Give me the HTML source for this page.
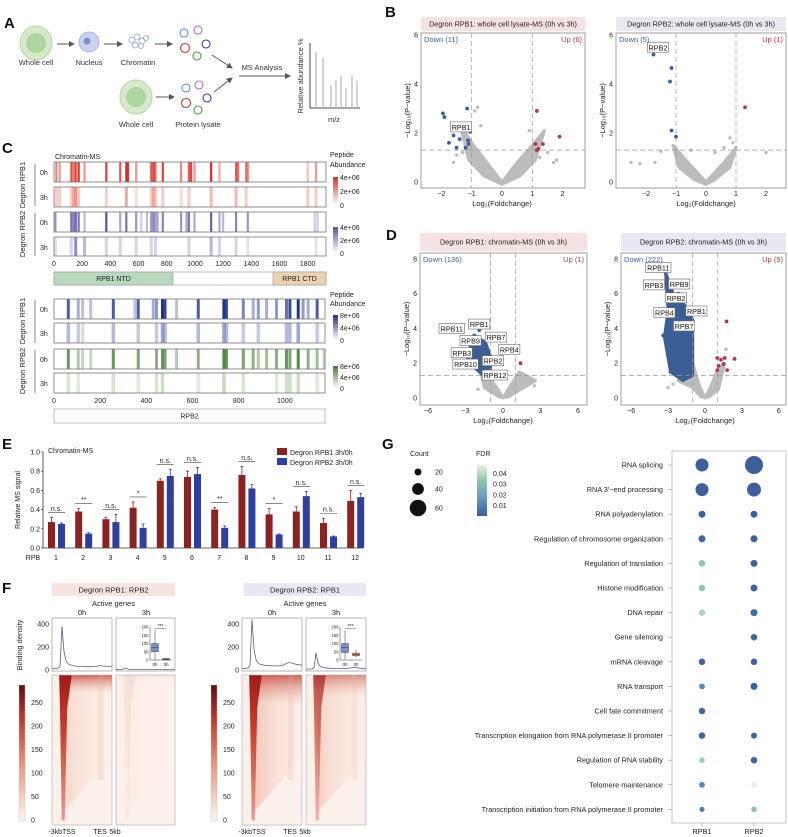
<!DOCTYPE html>
<html><head><meta charset="utf-8">
<style>
body{margin:0;background:#fff}
svg{display:block;font-family:"Liberation Sans",Arial,sans-serif}
</style></head>
<body>
<svg id="fig" width="788" height="837" viewBox="0 0 788 837" xmlns="http://www.w3.org/2000/svg">
<defs>
<marker id="arr" markerWidth="6" markerHeight="6" refX="5" refY="3" orient="auto"><path d="M0,0 L6,3 L0,6 z" fill="#555"/></marker>
<linearGradient id="gRed" x1="0" y1="1" x2="0" y2="0"><stop offset="0" stop-color="#fff"/><stop offset="1" stop-color="#d73027"/></linearGradient>
<linearGradient id="gPur" x1="0" y1="1" x2="0" y2="0"><stop offset="0" stop-color="#fff"/><stop offset="1" stop-color="#5e4fa2"/></linearGradient>
<linearGradient id="gBlu" x1="0" y1="1" x2="0" y2="0"><stop offset="0" stop-color="#fff"/><stop offset="1" stop-color="#1f2f80"/></linearGradient>
<linearGradient id="gGrn" x1="0" y1="1" x2="0" y2="0"><stop offset="0" stop-color="#fff"/><stop offset="1" stop-color="#3f7f2a"/></linearGradient>
<linearGradient id="gHeat" x1="0" y1="1" x2="0" y2="0"><stop offset="0" stop-color="#fdf6f2"/><stop offset="0.4" stop-color="#e99a7f"/><stop offset="0.75" stop-color="#c0392b"/><stop offset="1" stop-color="#5a0f0f"/></linearGradient>
<linearGradient id="gFdr" x1="0" y1="1" x2="0" y2="0"><stop offset="0" stop-color="#3b5b9a"/><stop offset="0.4" stop-color="#6e9fc5"/><stop offset="0.7" stop-color="#8ec6ae"/><stop offset="1" stop-color="#e8f2e0"/></linearGradient>
<linearGradient id="gStreak" x1="0" y1="0" x2="0" y2="1"><stop offset="0" stop-color="#9e1c14"/><stop offset="0.4" stop-color="#c8412e"/><stop offset="1" stop-color="#d9604a" stop-opacity="0.6"/></linearGradient>
<linearGradient id="gTop" x1="0" y1="0" x2="0" y2="1"><stop offset="0" stop-color="#c0392b" stop-opacity="0.75"/><stop offset="1" stop-color="#e8a08a" stop-opacity="0"/></linearGradient>
<linearGradient id="gSide" x1="0" y1="0" x2="1" y2="0"><stop offset="0" stop-color="#e38a72" stop-opacity="0.7"/><stop offset="1" stop-color="#f3c9b9" stop-opacity="0"/></linearGradient>
</defs>

<g font-weight="bold" font-size="15" fill="#111">
<text x="4" y="28">A</text>
<text x="385" y="17">B</text>
<text x="2" y="153">C</text>
<text x="386" y="240">D</text>
<text x="2" y="449">E</text>
<text x="2" y="593">F</text>
<text x="382" y="449">G</text>
</g>

<g font-size="7.5" fill="#333">
<ellipse cx="36" cy="43" rx="16" ry="17" fill="#d6eacb" stroke="#b6d7a4"/>
<circle cx="36" cy="43" r="10" fill="#aed69f"/>
<line x1="57" y1="44" x2="74" y2="44" stroke="#555" marker-end="url(#arr)"/>
<circle cx="89" cy="42" r="10" fill="#cad3ee" stroke="#a7b4dd"/>
<circle cx="87" cy="41" r="3.5" fill="#7d8fc7"/>
<line x1="104" y1="44" x2="122" y2="44" stroke="#555" marker-end="url(#arr)"/>
<g fill="none" stroke="#8ea2c9" stroke-width="0.8">
<circle cx="132" cy="40" r="3"/><circle cx="137" cy="37" r="3"/><circle cx="142" cy="41" r="3"/><circle cx="135" cy="45" r="3"/><circle cx="141" cy="46" r="2.5"/><circle cx="146" cy="38" r="2.5"/>
</g>
<line x1="155" y1="44" x2="172" y2="44" stroke="#555" marker-end="url(#arr)"/>
<g fill="none" stroke-width="1.1">
<circle cx="184" cy="33" r="4" stroke="#5b8fd0"/><circle cx="198" cy="30" r="4" stroke="#b565c2"/><circle cx="185" cy="48" r="4.5" stroke="#c43a3a"/><circle cx="206" cy="44" r="4" stroke="#3c3a8f"/><circle cx="197" cy="56" r="4" stroke="#4a9a3f"/>
</g>
<line x1="212" y1="55" x2="232" y2="68" stroke="#555" marker-end="url(#arr)"/>
<text x="36" y="65" text-anchor="middle">Whole cell</text>
<text x="89" y="65" text-anchor="middle">Nucleus</text>
<text x="138" y="65" text-anchor="middle">Chromatin</text>
<ellipse cx="136" cy="97" rx="16" ry="17" fill="#d6eacb" stroke="#b6d7a4"/>
<circle cx="136" cy="97" r="10" fill="#aed69f"/>
<line x1="156" y1="97" x2="174" y2="97" stroke="#555" marker-end="url(#arr)"/>
<g fill="none" stroke-width="1.1">
<circle cx="186" cy="88" r="4" stroke="#5b8fd0"/><circle cx="199" cy="85" r="4" stroke="#b565c2"/><circle cx="186" cy="103" r="4.5" stroke="#c43a3a"/><circle cx="207" cy="98" r="4" stroke="#3c3a8f"/><circle cx="198" cy="110" r="4" stroke="#4a9a3f"/>
</g>
<line x1="214" y1="92" x2="232" y2="78" stroke="#555" marker-end="url(#arr)"/>
<text x="136" y="127" text-anchor="middle">Whole cell</text>
<text x="198" y="127" text-anchor="middle">Protein lysate</text>
<text x="262" y="70" text-anchor="middle">MS Analysis</text>
<line x1="239" y1="76" x2="290" y2="76" stroke="#555" marker-end="url(#arr)"/>
<g>
<line x1="310" y1="43" x2="310" y2="108" stroke="#444"/>
<line x1="310" y1="108" x2="360" y2="108" stroke="#444"/>
<g stroke="#b5b5b5" stroke-width="1.2">
<line x1="316" y1="108" x2="316" y2="52"/><line x1="323" y1="108" x2="323" y2="58"/><line x1="331" y1="108" x2="331" y2="85"/><line x1="336" y1="108" x2="336" y2="80"/><line x1="341" y1="108" x2="341" y2="76"/><line x1="346" y1="108" x2="346" y2="88"/><line x1="352" y1="108" x2="352" y2="76"/><line x1="357" y1="108" x2="357" y2="81"/>
</g>
<text x="334" y="122" text-anchor="middle">m/z</text>
<text transform="translate(303,76) rotate(-90)" text-anchor="middle">Relative abundance %</text>
</g>
</g>

<g font-size="7" fill="#222">
<text x="55" y="159">Chromatin-MS</text>
<text x="330" y="157">Peptide</text>
<text x="330" y="167">Abundance</text>
<text x="330" y="297">Peptide</text>
<text x="330" y="306">Abundance</text>
</g>

<g font-size="7" fill="#222">
<text x="48" y="453">Chromatin-MS</text>
<rect x="277" y="448" width="10" height="7" fill="#8b2323"/>
<text x="290" y="455">Degron RPB1 3h/0h</text>
<rect x="277" y="458" width="10" height="7" fill="#2e3fa0"/>
<text x="290" y="465">Degron RPB2 3h/0h</text>
<text transform="translate(20,500) rotate(-90)" text-anchor="middle">Relative MS signal</text>
<text x="33" y="560" text-anchor="middle">RPB</text>
</g>

<g font-size="7" fill="#222">
<text x="410" y="456">Count</text>
<text x="476" y="456">FDR</text>
<rect x="477" y="465" width="10" height="51" fill="url(#gFdr)"/>
</g>
</svg>

<script>
const NS='http://www.w3.org/2000/svg';
const svg=document.getElementById('fig');
function mk(tag,attrs,parent){const e=document.createElementNS(NS,tag);for(const k in attrs)e.setAttribute(k,attrs[k]);(parent||svg).appendChild(e);return e;}
function tx(str,attrs,parent){const e=mk('text',attrs,parent);e.textContent=str;return e;}

/* ---------- DATA ---------- */
const bL_downX=[-1.95,-1.9,-1.15,-1.6,-1.75,-1.5,-1.2,-1.1,-1.12,-1.05,-1.4];
const bL_downY=[2.8,2.65,3.0,1.9,1.6,1.4,1.4,1.55,1.7,2.05,1.75];
const bL_upX=[1.15,1.1,1.35,1.2,1.15,1.9];
const bL_upY=[2.9,1.55,1.55,1.35,1.3,1.85];
const bL_grayX=[-0.8,-0.9,-1.5,-1.6,1.8,1.7,1.5,-0.7,0.9,-1.3,1.25];
const bL_grayY=[3.05,2.9,1.1,0.8,0.9,0.8,1.2,2.3,2.1,1.2,1.0];
const bL_cloudX=[-1.4,-1.0,-0.5,0,0.5,1.0,1.4,1.1,0.6,0,-0.6,-1.1];
const bL_cloudY=[2.4,1.6,0.8,0,0.8,1.5,2.1,0.9,0.25,-0.1,0.25,0.9];
const bR_downX=[-1.75,-1.15,-1.2,-1.15,-1.0];
const bR_downY=[5.2,4.65,4.1,2.1,1.85];
const bR_upX=[1.3];
const bR_upY=[3.05];
const bR_grayX=[-2.5,-2.2,-1.7,0.8,0.9,2.0,-1.5,-0.5,0.6,-0.9,0.3];
const bR_grayY=[0.8,0.75,0.8,1.8,1.6,1.2,1.25,1.3,1.4,1.0,1.2];
const bR_cloudX=[-1.1,-0.6,0,0.6,1.0,0.8,0.3,0,-0.4,-0.9];
const bR_cloudY=[1.5,0.8,0,0.8,1.4,0.6,0.1,-0.1,0.1,0.6];
const dL_downX=[-2.3,-1.9,-1.5,-2.6,-1.2,-2.8,-1.6,-2.0,-1.3,-2.2,-1.1];
const dL_downY=[3.6,3.9,3.2,2.95,2.65,2.3,2.1,1.9,1.5,2.6,1.8];
const dL_blobX=[-2.3,-1.4,-1.0,-1.0,-1.6,-2.2,-2.6,-2.4];
const dL_blobY=[3.6,3.2,2.4,1.4,1.3,1.7,2.6,3.1];
const dL_upX=[1.4];
const dL_upY=[2.0];
const dL_cloudX=[-1.8,-1.0,-0.4,0,0.5,1.3,2.6,1.2,0.4,-0.3,-1.5];
const dL_cloudY=[1.6,1.1,0.5,0,0.6,1.5,1.0,0.4,0.05,0.05,0.6];
const dL_grayX=[2.2,2.5,-2.0,1.6];
const dL_grayY=[0.9,0.7,0.5,1.3];
const dR_downX=[-3.2,-2.7,-2.2,-1.8,-3.4,-2.9,-2.4,-2.7,-2.8,-3.0,-1.4];
const dR_downY=[7.2,6.6,6.0,5.5,3.6,3.9,4.6,1.9,1.5,2.4,4.9];
const dR_blobX=[-3.2,-2.6,-1.6,-1.0,-1.0,-1.8,-2.8,-3.3,-3.0];
const dR_blobY=[7.2,6.0,5.3,4.5,1.3,1.0,1.5,3.5,5.0];
const dR_upX=[1.75,1.0,1.3,1.6,2.4,1.1,1.5,1.0,1.8];
const dR_upY=[4.4,2.3,2.2,2.3,2.25,1.85,1.95,1.6,1.6];
const dR_cloudX=[-1.0,-0.5,0,0.5,1.0,1.6,1.1,0.3,-0.3,-1.0,-2.2];
const dR_cloudY=[2.0,0.8,0,0.7,1.6,2.0,0.5,0.05,0.05,0.6,1.0];
const dR_grayX=[-2.6,-3.0,1.7,-1.9];
const dR_grayY=[0.8,0.6,2.8,0.9];
const dL_labels=['RPB11','RPB1','RPB7','RPB9','RPB4','RPB3','RPB2','RPB10','RPB12'];
const dL_labX=[-4.1,-1.9,-0.56,-2.6,0.5,-3.3,-0.8,-3.0,-0.64];
const dL_labY=[4.0,4.25,3.5,3.3,2.8,2.6,2.15,1.95,1.32];
const dR_labels=['RPB11','RPB3','RPB9','RPB2','RPB4','RPB1','RPB7'];
const dR_labX=[-3.8,-4.15,-2.1,-2.35,-3.3,-0.7,-1.7];
const dR_labY=[7.5,6.5,6.55,5.76,4.9,5.0,4.14];

const redTrack0h=[[17,.6],[40,.5],[123,.8],[139,.6],[154,.9],[175,1],[217,.5],[371,.9],[470,.8],[513,1],[524,1],[583,.5],[690,.8],[706,.9],[720,.7],[772,.9],[902,.6],[957,.8],[973,.9],[997,.5],[1115,1],[1174,.4],[1292,.8],[1306,.7],[1363,.6],[1375,.6],[1800,.3],[1859,.5]];
const redTrack3h=[[17,.3],[40,.3],[123,.3],[139,.4],[154,.6],[175,.3],[371,.3],[513,.5],[583,.2],[690,.3],[706,.4],[720,.3],[772,.3],[902,.2],[957,.3],[1115,.4],[1292,.4],[1363,.3],[1800,.3],[1859,.3]];
const purTrack0h=[[10,.6],[123,.8],[139,.7],[154,.9],[175,.8],[217,.4],[371,1],[470,.5],[513,.8],[583,.6],[620,.3],[660,.4],[690,.6],[706,.7],[720,.5],[735,.5],[772,.7],[902,.6],[940,.5],[957,.8],[997,.5],[1115,.9],[1174,.5],[1200,.4],[1292,.7],[1375,.6],[1850,.3],[1870,.3]];
const purTrack3h=[[10,.2],[123,.3],[154,.8],[217,.5],[371,.3],[470,.3],[583,.3],[690,.3],[720,.3],[957,.3],[1115,.5],[1174,.3],[1292,.3],[1375,.2],[1860,.2]];
const bluTrack0h=[[62,.8],[105,.4],[124,.3],[159,.3],[257,.8],[351,.3],[365,.8],[430,.4],[444,.5],[470,1],[481,.9],[531,.3],[625,.8],[736,1],[747,.9],[820,.6],[863,.4],[885,.5],[921,.4],[964,.5],[1007,.7],[1022,.9],[1058,1],[1079,.5],[1101,.4],[1140,.8]];
const bluTrack3h=[[62,.4],[105,.3],[124,.2],[257,.4],[365,.3],[444,.3],[470,.5],[481,.4],[625,.4],[736,.5],[747,.4],[820,.3],[885,.3],[1007,.4],[1022,.4],[1058,.5],[1140,.3]];
const grnTrack0h=[[62,.8],[105,.4],[124,.3],[159,.3],[257,.8],[365,.7],[444,.6],[470,.8],[481,.7],[531,.4],[625,.6],[736,.9],[747,.8],[820,.7],[863,.6],[885,.4],[921,.5],[964,.6],[1007,.8],[1022,.7],[1058,.9],[1101,.6],[1140,.5],[1170,.3]];
const grnTrack3h=[[62,.25],[105,.2],[257,.25],[365,.2],[444,.25],[470,.3],[625,.2],[736,.35],[820,.25],[964,.2],[1007,.3],[1022,.3],[1058,.3],[1140,.2]];
const rpb1Ticks=[0,200,400,600,800,1000,1200,1400,1600,1800];
const rpb2Ticks=[0,200,400,600,800,1000];

const eCats=['1','2','3','4','5','6','7','8','9','10','11','12'];
const eRpb1=[.27,.38,.30,.42,.70,.74,.40,.76,.35,.38,.26,.49];
const eRpb1Err=[.05,.03,.02,.06,.02,.06,.02,.09,.06,.05,.05,.11];
const eRpb2=[.25,.15,.27,.21,.75,.77,.21,.62,.14,.54,.12,.53];
const eRpb2Err=[.01,.01,.08,.04,.07,.07,.02,.04,.005,.05,.005,.04];
const eSig=['n.s.','**','n.s.','*','n.s.','n.s.','**','n.s.','*','n.s.','n.s.','n.s.'];
const eTicks=[0,0.2,0.4,0.6,0.8,1.0];

const profL0=[12,13,14,16,30,380,160,80,55,45,40,36,34,32,31,30,30,29,29,29,30,31,32,34,38,36,34,32,31,30,30];
const profL3=[4,4,5,6,10,18,8,6,5,5,5,5,4,4,4,4,4,4,4,4,4,4,4,4,5,5,4,4,4,4,4];
const profR0=[12,13,15,18,40,440,180,90,62,50,45,42,40,38,37,36,36,36,36,37,40,45,55,62,65,60,55,50,46,44,42];
const profR3=[8,8,9,10,20,150,60,35,25,20,18,16,15,14,14,13,13,13,13,13,14,15,17,20,22,20,18,16,15,14,14];
const boxL0=[0,50,75,100,185];
const boxL3=[0,2,5,9,15];
const boxR0=[5,45,75,100,180];
const boxR3=[15,25,33,42,65];

const gTerms=['RNA splicing',"RNA 3\u2032\u2212end processing",'RNA polyadenylation','Regulation of chromosome organization','Regulation of translation','Histone modification','DNA repair','Gene silencing','mRNA cleavage','RNA transport','Cell fate commitment','Transcription elongation from RNA polymerase II promoter','Regulation of RNA stability','Telomere maintenance','Transcription initiation from RNA polymerase II promoter'];
const gCountRpb1=[45,45,20,20,18,18,18,null,18,15,18,18,14,15,12];
const gFdrRpb1=[.002,.002,.003,.004,.03,.03,.035,null,.004,.015,.005,.005,.032,.015,.012];
const gCountRpb2=[66,49,20,20,20,20,20,18,18,20,null,16,18,15,14];
const gFdrRpb2=[.002,.002,.003,.003,.003,.004,.008,.006,.004,.003,null,.005,.004,.045,.028];
const gCountLegend=[20,40,60];
const gFdrTicks=[0.01,0.02,0.03,0.04];

/* ---------- Volcano ---------- */
function volcano(o){
  const g=mk('g',{});
  
  
  const sx=v=>o.x0+v*o.kx, sy=v=>o.y0-v*o.ky;
  const tb=mk('rect',{x:o.bx,y:o.ty,width:o.bw,height:o.th,fill:o.tfill},g);
  
  
  const tt=tx(o.title,{x:o.bx+o.bw/2,y:o.ty+o.th/2+2.5,'text-anchor':'middle','font-size':7.2,fill:'#222'},g);
  
  
  const box=mk('rect',{x:o.bx,y:o.by,width:o.bw,height:o.bh,fill:'#fff',stroke:'#888','stroke-width':0.8},g);
  
  
  const cp=o.cloudX.map((x,i)=>sx(x)+','+sy(o.cloudY[i])).join(' ');
  const cl=mk('polygon',{points:cp,fill:'#bcbcbc',stroke:'#bcbcbc','stroke-width':3,'stroke-linejoin':'round'},g);
  
  
  o.grayX.forEach((x,i)=>{const c=mk('circle',{cx:sx(x),cy:sy(o.grayY[i]),r:1.7,fill:'#bcbcbc'},g);
    
    });
  if(o.blobX){const bp=o.blobX.map((x,i)=>sx(x)+','+sy(o.blobY[i])).join(' ');
    const b=mk('polygon',{points:bp,fill:'#3a5e95',stroke:'#3a5e95','stroke-width':3,'stroke-linejoin':'round'},g);
    
    }
  [-1,1].forEach(v=>{const l=mk('line',{x1:sx(v),x2:sx(v),y1:o.by,y2:o.by+o.bh,stroke:'#999','stroke-dasharray':'5,3','stroke-width':0.7},g);
    
    });
  const hl=mk('line',{x1:o.bx,x2:o.bx+o.bw,y1:sy(1.3),y2:sy(1.3),stroke:'#999','stroke-dasharray':'5,3','stroke-width':0.7},g);
  
  
  o.downX.forEach((x,i)=>{const c=mk('circle',{cx:sx(x),cy:sy(o.downY[i]),r:1.9,fill:'#3a5e95'},g);
    
    });
  o.upX.forEach((x,i)=>{const c=mk('circle',{cx:sx(x),cy:sy(o.upY[i]),r:1.9,fill:'#b03a48'},g);
    
    });
  (o.labels||[]).forEach((s,i)=>{const cx=sx(o.labX[i]),cy=sy(o.labY[i]);const w=s.length*4.3+4;
    const r=mk('rect',{x:cx-w/2,y:cy-5,width:w,height:10,fill:'#fff',stroke:'#666','stroke-width':0.6},g);
    
    
    const t=tx(s,{x:cx,y:cy+3,'text-anchor':'middle','font-size':7.2,fill:'#111'},g);
    
    });
  const dn=tx(o.down,{x:o.bx+3,y:o.by+9,'font-size':7.5,fill:'#3a5e95'},g);
  
  
  const up=tx(o.up,{x:o.bx+o.bw-3,y:o.by+9,'font-size':7.5,fill:'#b03a48','text-anchor':'end'},g);
  
  
  o.yt.forEach(v=>{const t=tx(String(v),{x:o.bx-3,y:sy(v)+2.5,'text-anchor':'end','font-size':7,fill:'#222'},g);
    
    });
  o.xt.forEach(v=>{const t=tx(v<0?'\u2212'+(-v):String(v),{x:sx(v),y:o.by+o.bh+8,'text-anchor':'middle','font-size':7,fill:'#222'},g);
    
    });
  const xl=tx('Log\u2082(Foldchange)',{x:sx(0),y:o.by+o.bh+18,'text-anchor':'middle','font-size':7.5,fill:'#222'},g);
  
  
  const yl=tx('\u2212Log\u2081\u2080(P\u2212value)',{transform:`translate(${o.bx-11},${o.by+o.bh/2}) rotate(-90)`,'text-anchor':'middle','font-size':7.5,fill:'#222'},g);
  
  
}
volcano({name:'volcano-rpb1-whole-cell',bx:421,by:33,bw:164,bh:155,x0:502,kx:30.3,y0:182,ky:24.5,ty:17,th:14,tfill:'#f6e2e2',
  title:'Degron RPB1: whole cell lysate-MS (0h vs 3h)',down:'Down (11)',up:'Up (6)',yt:[0,2,4,6],xt:[-2,-1,0,1,2],
  cloudX:bL_cloudX,cloudY:bL_cloudY,grayX:bL_grayX,grayY:bL_grayY,downX:bL_downX,downY:bL_downY,upX:bL_upX,upY:bL_upY,
  labels:['RPB1'],labX:[-1.35],labY:[2.25]});
volcano({name:'volcano-rpb2-whole-cell',bx:616,by:33,bw:170,bh:155,x0:706,kx:30,y0:182,ky:24.5,ty:17,th:14,tfill:'#e7e8f1',
  title:'Degron RPB2: whole cell lysate-MS (0h vs 3h)',down:'Down (5)',up:'Up (1)',yt:[0,2,4,6],xt:[-2,-1,0,1,2],
  cloudX:bR_cloudX,cloudY:bR_cloudY,grayX:bR_grayX,grayY:bR_grayY,downX:bR_downX,downY:bR_downY,upX:bR_upX,upY:bR_upY,
  labels:['RPB2'],labX:[-1.6],labY:[5.5]});
volcano({name:'volcano-rpb1-chromatin',bx:420,by:253,bw:167,bh:152,x0:503,kx:12.5,y0:398,ky:17.4,ty:233,th:18,tfill:'#f6e2e2',
  title:'Degron RPB1: chromatin-MS (0h vs 3h)',down:'Down (136)',up:'Up (1)',yt:[0,2,4,6,8],xt:[-6,-3,0,3,6],
  cloudX:dL_cloudX,cloudY:dL_cloudY,grayX:dL_grayX,grayY:dL_grayY,blobX:dL_blobX,blobY:dL_blobY,downX:dL_downX,downY:dL_downY,upX:dL_upX,upY:dL_upY,
  labels:dL_labels,labX:dL_labX,labY:dL_labY});
volcano({name:'volcano-rpb2-chromatin',bx:621,by:253,bw:165,bh:152,x0:705,kx:12.3,y0:398,ky:17.4,ty:233,th:18,tfill:'#e7e8f1',
  title:'Degron RPB2: chromatin-MS (0h vs 3h)',down:'Down (222)',up:'Up (9)',yt:[0,2,4,6,8],xt:[-6,-3,0,3,6],
  cloudX:dR_cloudX,cloudY:dR_cloudY,grayX:dR_grayX,grayY:dR_grayY,blobX:dR_blobX,blobY:dR_blobY,downX:dR_downX,downY:dR_downY,upX:dR_upX,upY:dR_upY,
  labels:dR_labels,labX:dR_labX,labY:dR_labY});

/* ---------- Panel C tracks ---------- */
function track(y,h,x0,x1,maxAA,stripes,color,name,sw){
  const g=mk('g',{});
  
  
  const k=(x1-x0)/maxAA;
  stripes.forEach(s=>{const r=mk('rect',{x:x0+s[0]*k-sw/2,y:y,width:sw,height:h,fill:color,'fill-opacity':s[1]},g);
    
    });
  const b=mk('rect',{x:x0,y:y,width:x1-x0,height:h,fill:'none',stroke:'#777','stroke-width':0.8},g);
  
  
}
track(162,20,54,326,1930,redTrack0h,'#d73027','track-rpb1-degron-0h',2.2);
track(187,20,54,326,1930,redTrack3h,'#e0553f','track-rpb1-degron-3h',3);
track(212,20,54,326,1930,purTrack0h,'#5e4fa2','track-rpb2-degron-0h',2.2);
track(237,19,54,326,1930,purTrack3h,'#7a6cbc','track-rpb2-degron-3h',3);
track(299,20,54,325,1174,bluTrack0h,'#1f3590','track-b-rpb1-degron-0h',3);
track(323,20,54,325,1174,bluTrack3h,'#3a4fb0','track-b-rpb1-degron-3h',3.5);
track(349,20,54,325,1174,grnTrack0h,'#3f7f2a','track-b-rpb2-degron-0h',3);
track(373,20,54,325,1174,grnTrack3h,'#5a9a40','track-b-rpb2-degron-3h',3.5);
function axisTicks(ticks,x0,x1,maxAA,y,name){
  const k=(x1-x0)/maxAA;
  ticks.forEach(v=>{const t=tx(String(v),{x:x0+v*k,y:y,'text-anchor':'middle','font-size':7,fill:'#222'});
    
    });
}
axisTicks(rpb1Ticks,54,326,1930,266,'rpb1-aa-tick');
axisTicks(rpb2Ticks,54,325,1174,403,'rpb2-aa-tick');
function dom(x,y,w,h,fill,label,name){
  const r=mk('rect',{x:x,y:y,width:w,height:h,fill:fill,stroke:'#999','stroke-width':0.6});
  
  
  if(label){const t=tx(label,{x:x+w/2,y:y+h/2+2.5,'text-anchor':'middle','font-size':7,fill:'#222'});
    
    }
}
dom(54,272,272,13,'#fff','','rpb1-domain-track');
dom(54,272,119,13,'#b9d9bd','RPB1 NTD','rpb1-ntd');
dom(273,272,53,13,'#ecd2b0','RPB1 CTD','rpb1-ctd');
dom(54,409,271,14,'#fff','RPB2','rpb2-domain');
const rowLabs=[['0h',175],['3h',200],['0h',225],['3h',250],['0h',312],['3h',336],['0h',362],['3h',386]];
rowLabs.forEach(r=>{const t=tx(r[0],{x:40,y:r[1],'font-size':7,fill:'#222'});
  
  });
[[185,'Degron RPB1',164,206],[234,'Degron RPB2',213,256],[321,'Degron RPB1',300,343],[371,'Degron RPB2',350,393]].forEach(r=>{
  const t=tx(r[1],{transform:`translate(25,${r[0]}) rotate(-90)`,'text-anchor':'middle','font-size':7.5,fill:'#222'});
  
  
  const l=mk('line',{x1:35,x2:35,y1:r[2],y2:r[3],stroke:'#555','stroke-width':0.7});
  
  });
function cbar(y,h,grad,labs,name){
  const r=mk('rect',{x:333,y:y,width:5,height:h,fill:grad});
  
  
  labs.forEach((s,i)=>{const t=tx(s,{x:340,y:y+i*h/2+3,'font-size':7,fill:'#222'});
    
    });
}
cbar(177,28,'url(#gRed)',['4e+06','2e+06','0'],'red-colorbar');
cbar(227,26,'url(#gPur)',['4e+06','2e+06','0'],'purple-colorbar');
cbar(315,25,'url(#gBlu)',['8e+06','4e+06','0'],'blue-colorbar');
cbar(366,22,'url(#gGrn)',['8e+06','4e+06','0'],'green-colorbar');

/* ---------- Panel E ---------- */
const eX0=43,eY0=548,eKy=96,eStep=27.2,eFirst=56;
const ey=v=>eY0-v*eKy, ex=i=>eFirst+i*eStep;
const eax=mk('line',{x1:eX0,x2:363,y1:eY0,y2:eY0,stroke:'#333','stroke-width':0.8});


const eay=mk('line',{x1:eX0,x2:eX0,y1:ey(1),y2:eY0,stroke:'#333','stroke-width':0.8});


eTicks.forEach(v=>{const t=tx(v.toFixed(1),{x:eX0-3,y:ey(v)+2.5,'text-anchor':'end','font-size':7,fill:'#222'});
  
  
  const l=mk('line',{x1:eX0-2,x2:eX0,y1:ey(v),y2:ey(v),stroke:'#333','stroke-width':0.7});
  
  });
eCats.forEach((c,i)=>{
  const cx=ex(i);
  const b1=mk('rect',{x:cx-8,y:ey(eRpb1[i]),width:7,height:eRpb1[i]*eKy,fill:'#8b2323'});
  
  
  const b2=mk('rect',{x:cx+2,y:ey(eRpb2[i]),width:7,height:eRpb2[i]*eKy,fill:'#2e3fa0'});
  
  
  const e1=mk('path',{d:`M${cx-4.5},${ey(eRpb1[i])} V${ey(eRpb1[i]+eRpb1Err[i])} M${cx-6},${ey(eRpb1[i]+eRpb1Err[i])} H${cx-3}`,stroke:'#8b2323','stroke-width':0.8,fill:'none'});
  
  
  const e2=mk('path',{d:`M${cx+5.5},${ey(eRpb2[i])} V${ey(eRpb2[i]+eRpb2Err[i])} M${cx+4},${ey(eRpb2[i]+eRpb2Err[i])} H${cx+7}`,stroke:'#2e3fa0','stroke-width':0.8,fill:'none'});
  
  
  const top=Math.max(eRpb1[i]+eRpb1Err[i],eRpb2[i]+eRpb2Err[i]);
  const sl=mk('line',{x1:cx-8,x2:cx+9,y1:ey(top)-5,y2:ey(top)-5,stroke:'#444','stroke-width':0.6});
  
  
  const st=tx(eSig[i],{x:cx+0.5,y:ey(top)-6.5,'text-anchor':'middle','font-size':7,fill:'#222'});
  
  
  const lt=tx(c,{x:cx,y:560,'text-anchor':'middle','font-size':7,fill:'#222'});
  
  
});

/* ---------- Panel F ---------- */
function titleBox(x,w,label,fill,name){
  const r=mk('rect',{x:x,y:583,width:w,height:13,fill:fill});
  
  
  const t=tx(label,{x:x+w/2,y:592.5,'text-anchor':'middle','font-size':7.5,fill:'#222'});
  
  
  const a=tx('Active genes',{x:x+w/2,y:606,'text-anchor':'middle','font-size':7.5,fill:'#222'});
  
  
}
titleBox(52,123,'Degron RPB1: RPB2','#f7e3e2','f-title-rpb1');
titleBox(244,122,'Degron RPB2: RPB1','#e7e8f1','f-title-rpb2');
const pY0=670,pK=0.115;
function profile(x,w,vals,name,showY){
  const g=mk('g',{});
  
  
  const b=mk('rect',{x:x,y:618,width:w,height:53,fill:'#fff',stroke:'#999','stroke-width':0.7},g);
  
  
  const pts=vals.map((v,i)=>(x+i*w/(vals.length-1)).toFixed(1)+','+(pY0-v*pK).toFixed(1)).join(' ');
  const l=mk('polyline',{points:pts,fill:'none',stroke:'#5a5f80','stroke-width':0.8},g);
  
  
  if(showY){[0,200,400].forEach(v=>{const t=tx(String(v),{x:x-3,y:pY0-v*pK+2.5,'text-anchor':'end','font-size':7,fill:'#222'},g);
    
    });}
}
function heat(x,w,strength,spread,side,name){
  const g=mk('g',{});
  
  
  const y=675,h=150;
  const base=mk('rect',{x:x,y:y,width:w,height:h,fill:'#fcf0ea'},g);
  
  
  const tss=x+w*0.17;
  const sd=mk('polygon',{points:`${tss},${y} ${x+w},${y} ${x+w},${y+h*0.55} ${tss+3},${y+h*0.9}`,fill:'url(#gSide)',opacity:side},g);
  
  
  const top=mk('rect',{x:x+w*0.12,y:y,width:w*0.88,height:h*spread,fill:'url(#gTop)',opacity:strength},g);
  
  
  const p=`${tss-3},${y} ${tss+w*0.16},${y} ${tss+5},${y+h*0.22} ${tss+2.5},${y+h*0.97} ${tss-0.5},${y+h*0.97} ${tss-2},${y+h*0.3}`;
  const s=mk('polygon',{points:p,fill:'url(#gStreak)',opacity:strength},g);
  
  
  const tes=mk('rect',{x:x+w*0.76,y:y,width:w*0.1,height:h*0.7,fill:'#e9b3a2',opacity:strength*0.25},g);
  
  
  const fr=mk('rect',{x:x,y:y,width:w,height:h,fill:'none',stroke:'#aaa','stroke-width':0.6},g);
  
  
}
function boxplot(x0,boxes,colors,name){
  const g=mk('g',{});
  
  
  const yb=660,k=33/200;
  const ax=mk('path',{d:`M${x0},${yb-200*k} V${yb} H${x0+22}`,stroke:'#333','stroke-width':0.5,fill:'none'},g);
  
  
  [0,50,100,150,200].forEach(v=>{const t=tx(String(v),{x:x0-1.5,y:yb-v*k+1.5,'text-anchor':'end','font-size':4.2,fill:'#222'},g);
    
    });
  boxes.forEach((b,i)=>{const cx=x0+5+i*11;
    const w=mk('line',{x1:cx,x2:cx,y1:yb-b[0]*k,y2:yb-b[4]*k,stroke:'#333','stroke-width':0.5},g);
    
    
    const r=mk('rect',{x:cx-3.5,y:yb-b[3]*k,width:7,height:Math.max(0.8,(b[3]-b[1])*k),fill:colors[i],stroke:'#333','stroke-width':0.4},g);
    
    
    const m=mk('line',{x1:cx-3.5,x2:cx+3.5,y1:yb-b[2]*k,y2:yb-b[2]*k,stroke:'#333','stroke-width':0.5},g);
    
    
    const t=tx(['0h','3h'][i],{x:cx,y:yb+6,'text-anchor':'middle','font-size':4.5,fill:'#222'},g);
    
    });
  const s=mk('line',{x1:x0+5,x2:x0+16,y1:yb-190*k,y2:yb-190*k,stroke:'#555','stroke-width':0.5},g);
  
  
  const st=tx('***',{x:x0+10.5,y:yb-193*k,'text-anchor':'middle','font-size':5,fill:'#222'},g);
  
  
}
[[52,'0h'],[116,'3h'],[242,'0h'],[306,'3h']].forEach(p=>{const t=tx(p[1],{x:p[0]+30,y:615,'text-anchor':'middle','font-size':7.5,fill:'#222'});
  
  });
profile(52,60,profL0,'profile-rpb1-degron-0h',true);
profile(116,59,profL3,'profile-rpb1-degron-3h',false);
profile(242,60,profR0,'profile-rpb2-degron-0h',true);
profile(306,60,profR3,'profile-rpb2-degron-3h',false);
boxplot(150,[boxL0,boxL3],['#7b8fd0','#7b8fd0'],'inset-boxplot-left');
boxplot(340,[boxR0,boxR3],['#7b8fd0','#d08a6a'],'inset-boxplot-right');
heat(52,60,1,0.12,0.35,'heatmap-rpb1-degron-0h');
heat(116,59,0.06,0.05,0.05,'heatmap-rpb1-degron-3h');
heat(242,60,1,0.2,0.6,'heatmap-rpb2-degron-0h');
heat(306,60,0.7,0.15,0.45,'heatmap-rpb2-degron-3h');
const byl=tx('Binding density',{transform:'translate(22,645) rotate(-90)','text-anchor':'middle','font-size':7.5,fill:'#222'});


[19,211].forEach(x=>{const r=mk('rect',{x:x,y:685,width:6,height:136,fill:'url(#gHeat)',stroke:'#bbb','stroke-width':0.4});
  
  
  [0,50,100,150,200,250].forEach(v=>{const t=tx(String(v),{x:x+12,y:820-v*0.47+2.5,'font-size':7,fill:'#222'});
    
    });});
[52,242].forEach(x=>{[['-3kbTSS',x+10],['TES',x+48],['5kb',x+63]].forEach(s=>{const t=tx(s[0],{x:s[1],y:834,'text-anchor':'middle','font-size':7,fill:'#222'});
  
  });});

/* ---------- Panel G ---------- */
const gY0=465,gStep=24.6,gX1=702,gX2=754;
const gr=c=>0.12*c+1.1;
function fdrColor(f){
  const stops=[[0,[59,91,154]],[0.01,[70,110,165]],[0.02,[110,159,197]],[0.03,[142,198,174]],[0.045,[232,242,224]]];
  for(let i=1;i<stops.length;i++){if(f<=stops[i][0]){const a=stops[i-1],b=stops[i];const t=(f-a[0])/(b[0]-a[0]);
    return 'rgb('+a[1].map((v,j)=>Math.round(v+(b[1][j]-v)*t)).join(',')+')';}}
  return 'rgb(232,242,224)';
}
const gb=mk('rect',{x:672,y:451,width:114,height:372,fill:'#fff',stroke:'#bbb','stroke-width':0.8});


gTerms.forEach((term,i)=>{
  const y=gY0+i*gStep;
  const t=tx(term,{x:663,y:y+2.5,'text-anchor':'end','font-size':7.3,fill:'#222'});
  
  
  const tk=mk('line',{x1:668,x2:672,y1:y,y2:y,stroke:'#999','stroke-width':0.6});
  
  
  if(gCountRpb1[i]!=null){const c=mk('circle',{cx:gX1,cy:y,r:gr(gCountRpb1[i]),fill:fdrColor(gFdrRpb1[i])});
    
    }
  if(gCountRpb2[i]!=null){const c=mk('circle',{cx:gX2,cy:y,r:gr(gCountRpb2[i]),fill:fdrColor(gFdrRpb2[i])});
    
    }
});
[[gX1,'RPB1'],[gX2,'RPB2']].forEach(p=>{
  const tk=mk('line',{x1:p[0],x2:p[0],y1:823,y2:826,stroke:'#999','stroke-width':0.6});
  
  
  const t=tx(p[1],{x:p[0],y:834,'text-anchor':'middle','font-size':7.3,fill:'#222'});
  
  });
gCountLegend.forEach((c,i)=>{const y=[472,489,508][i];
  const cc=mk('circle',{cx:418,cy:y,r:gr(c),fill:'#111'});
  
  
  const t=tx(String(c),{x:435,y:y+2.5,'font-size':7,fill:'#222'});
  
  });
gFdrTicks.forEach(f=>{const y=516-(f/0.048)*51;
  const t=tx(f.toFixed(2),{x:493,y:y+2.5,'font-size':7,fill:'#222'});
  
  });
</script>
</body></html>
